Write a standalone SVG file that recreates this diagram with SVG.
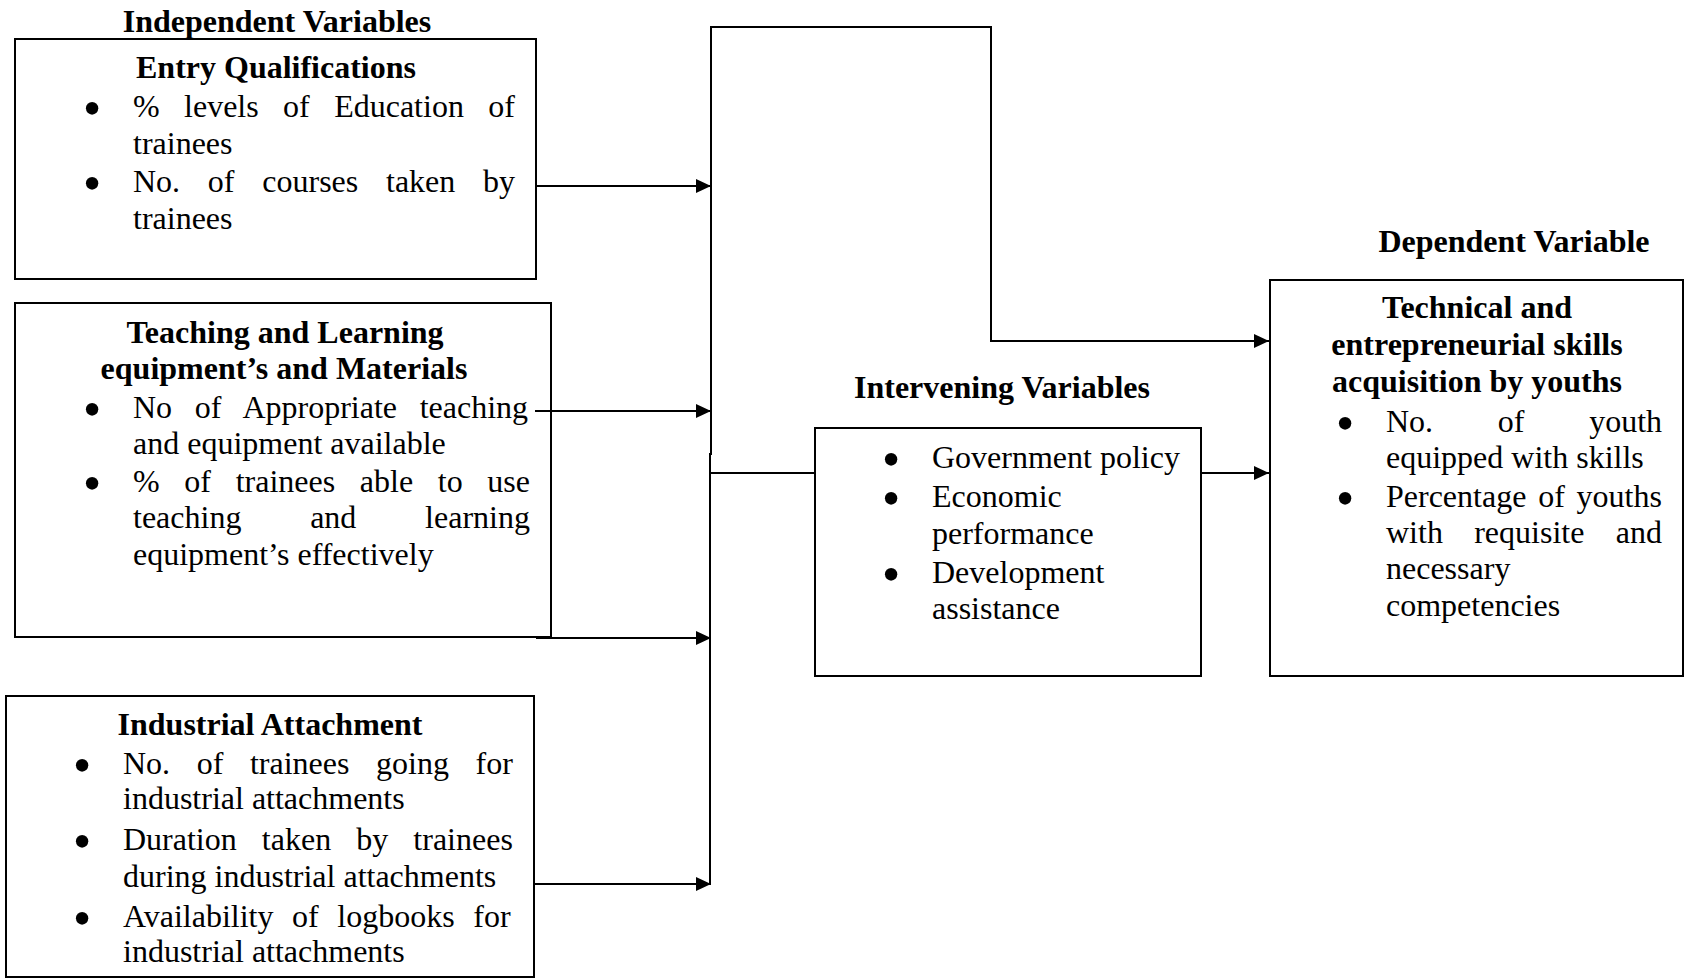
<svg xmlns="http://www.w3.org/2000/svg" width="1685" height="979" viewBox="0 0 1685 979">
<style>
text{font-family:"Liberation Serif","Times New Roman",serif;font-size:32px;fill:#000}
.h{font-weight:bold;text-anchor:middle}
.b{text-anchor:middle;font-size:52px}
.box{fill:#fff;stroke:#000;stroke-width:2}
.ln{fill:none;stroke:#000;stroke-width:2}
</style>
<defs>
<marker id="ah" markerUnits="userSpaceOnUse" markerWidth="16" markerHeight="16" refX="15" refY="7" orient="auto">
<path d="M0,0 L15,7 L0,14 z" fill="#000"/>
</marker>
</defs>
<rect width="1685" height="979" fill="#fff"/>

<text class="h" x="277" y="32">Independent Variables</text>
<text class="h" x="1002" y="398">Intervening Variables</text>
<text class="h" x="1514" y="252">Dependent Variable</text>

<g id="entry">
<rect class="box" x="15" y="39" width="521" height="240"/>
<text class="h" x="276" y="78">Entry Qualifications</text>
<text class="b" x="92" y="126">•</text>
<text class="b" x="92" y="201">•</text>
<text x="133" y="117" word-spacing="16.4">% levels of Education of</text>
<text x="133" y="154">trainees</text>
<text x="133" y="192" word-spacing="19.75">No. of courses taken by</text>
<text x="133" y="229">trainees</text>
</g>

<g id="teaching">
<rect class="box" x="15" y="303" width="536" height="334"/>
<text class="h" x="285" y="343">Teaching and Learning</text>
<text class="h" x="284" y="379">equipment’s and Materials</text>
<text class="b" x="92" y="427">•</text>
<text class="b" x="92" y="501">•</text>
<text x="133" y="418" word-spacing="14.7">No of Appropriate teaching</text>
<text x="133" y="454">and equipment available</text>
<text x="133" y="492" word-spacing="16.66">% of trainees able to use</text>
<text x="133" y="528" word-spacing="60.75">teaching and learning</text>
<text x="133" y="565">equipment’s effectively</text>
</g>

<g id="industrial">
<rect class="box" x="6" y="696" width="528" height="281"/>
<text class="h" x="270" y="735">Industrial Attachment</text>
<text class="b" x="82" y="783">•</text>
<text class="b" x="82" y="859">•</text>
<text class="b" x="82" y="936">•</text>
<text x="123" y="774" word-spacing="18.6">No. of trainees going for</text>
<text x="123" y="809">industrial attachments</text>
<text x="123" y="850" word-spacing="17.1">Duration taken by trainees</text>
<text x="123" y="887">during industrial attachments</text>
<text x="123" y="927" word-spacing="10.6">Availability of logbooks for</text>
<text x="123" y="962">industrial attachments</text>
</g>

<g id="intervening">
<rect class="box" x="815" y="428" width="386" height="248"/>
<text class="b" x="891" y="477">•</text>
<text class="b" x="891" y="516">•</text>
<text class="b" x="891" y="592">•</text>
<text x="932" y="468">Government policy</text>
<text x="932" y="507">Economic</text>
<text x="932" y="544">performance</text>
<text x="932" y="583">Development</text>
<text x="932" y="619">assistance</text>
</g>

<g id="dependent">
<rect class="box" x="1270" y="280" width="413" height="396"/>
<text class="h" x="1477" y="318">Technical and</text>
<text class="h" x="1477" y="355">entrepreneurial skills</text>
<text class="h" x="1477" y="392">acquisition by youths</text>
<text class="b" x="1345" y="441">•</text>
<text class="b" x="1345" y="516">•</text>
<text x="1386" y="432" word-spacing="56.7">No. of youth</text>
<text x="1386" y="468">equipped with skills</text>
<text x="1386" y="507" word-spacing="3.8">Percentage of youths</text>
<text x="1386" y="543" word-spacing="23.3">with requisite and</text>
<text x="1386" y="579">necessary</text>
<text x="1386" y="616">competencies</text>
</g>

<g id="connectors">
<line class="ln" x1="536" y1="186" x2="711" y2="186" marker-end="url(#ah)"/>
<line class="ln" x1="535" y1="411" x2="711" y2="411" marker-end="url(#ah)"/>
<line class="ln" x1="536" y1="638" x2="711" y2="638" marker-end="url(#ah)"/>
<line class="ln" x1="534" y1="884" x2="711" y2="884" marker-end="url(#ah)"/>
<polyline class="ln" points="711,455 711,27 991,27 991,341 1269,341" marker-end="url(#ah)"/>
<line class="ln" x1="710" y1="453" x2="710" y2="884"/>
<line class="ln" x1="710" y1="473" x2="815" y2="473"/>
<line class="ln" x1="1201" y1="473" x2="1269" y2="473" marker-end="url(#ah)"/>
</g>
</svg>
